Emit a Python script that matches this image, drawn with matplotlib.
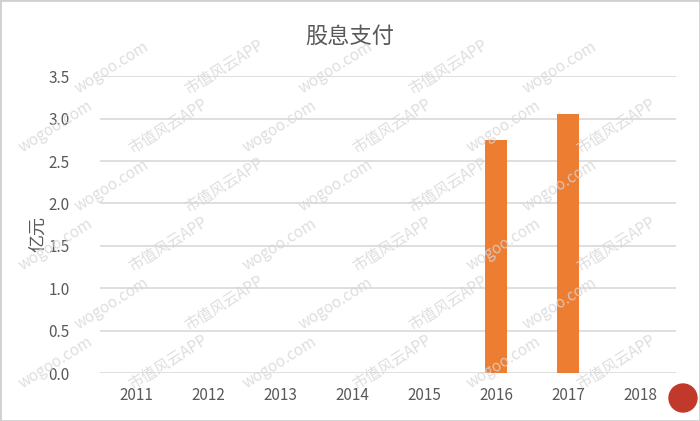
import matplotlib
matplotlib.use('Agg')
import matplotlib.pyplot as plt
from matplotlib.patches import Ellipse

plt.rcParams['font.family'] = ['Noto Sans CJK SC', 'DejaVu Sans']

# 股息支付 (亿元)
years = ['2011', '2012', '2013', '2014', '2015', '2016', '2017', '2018']
dividends = [0, 0, 0, 0, 0, 2.75, 3.05, 0]
yticks = [0.0, 0.5, 1.0, 1.5, 2.0, 2.5, 3.0, 3.5]

fig = plt.figure(figsize=(7, 4.21), dpi=100)
ax = fig.add_axes([0.143, 0.114, 0.823, 0.705])

ax.bar(range(len(years)), dividends, width=0.3, color='#ED7D31', zorder=3)
ax.set_xlim(-0.5, len(years) - 0.5)
ax.set_ylim(0, 3.5)
ax.set_yticks(yticks)
ax.set_yticklabels(['%.1f' % v for v in yticks])
ax.set_xticks(range(len(years)))
ax.set_xticklabels(years)
ax.tick_params(length=0, labelsize=11, colors='#595959', pad=10)
ax.tick_params(axis='y', pad=22)
ax.grid(axis='y', color='#d9d9d9', linewidth=1.2, zorder=0)
for s in ax.spines.values():
    s.set_visible(False)

ax.set_ylabel('亿元', fontsize=13, color='#595959')
ax.yaxis.set_label_coords(-0.092, 0.47)
fig.text(0.5, 0.915, '股息支付', ha='center', va='center', fontsize=16, color='#595959')

# watermarks (kept inside the picture)
marks = ['市值风云APP', 'wogoo.com']
for row in range(0, 8):
    for col in range(-1, 8):
        x = col * 0.16 + (row % 2) * 0.08
        y = row * 0.14
        if 0.07 < x < 0.93 and 0.07 < y < 0.93:
            fig.text(x, y, marks[(row + col) % 2], rotation=32, fontsize=11,
                     color='#d6d6d6', alpha=0.8, ha='center', va='center', zorder=10)

# logo
fig.patches.append(Ellipse((683 / 700, 1 - 398 / 421), 28 / 700, 28 / 421,
                           transform=fig.transFigure, color='#c0392b', zorder=11))

# border
fig.patches.append(plt.Rectangle((0, 0), 1, 1, transform=fig.transFigure,
                                 fill=False, edgecolor='#d0d0d0', linewidth=2))

fig.savefig('out.png', dpi=100)
